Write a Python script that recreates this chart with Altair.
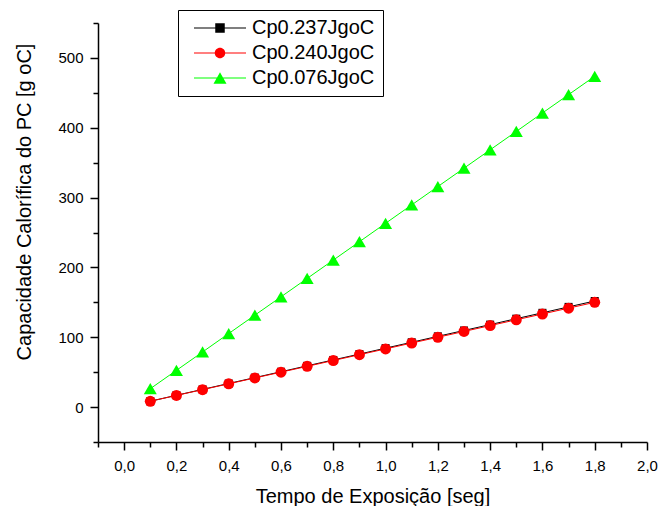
import altair as alt
import pandas as pd

# ---- data ----
tempo = [0.1, 0.2, 0.3, 0.4, 0.5, 0.6, 0.7, 0.8, 0.9, 1.0, 1.1, 1.2, 1.3, 1.4, 1.5, 1.6, 1.7, 1.8]
cp0237 = [8.4, 16.9, 25.3, 33.8, 42.2, 50.6, 59.1, 67.5, 75.9, 84.4, 92.8, 101.3, 109.7, 118.1, 126.6, 135.0, 143.5, 151.9]
cp0240 = [8.3, 16.7, 25.0, 33.3, 41.7, 50.0, 58.3, 66.7, 75.0, 83.3, 91.7, 100.0, 108.3, 116.7, 125.0, 133.3, 141.7, 150.0]
cp0076 = [26.3, 52.6, 78.9, 105.3, 131.6, 157.9, 184.2, 210.5, 236.8, 263.2, 289.5, 315.8, 342.1, 368.4, 394.7, 421.1, 447.4, 473.7]

series = ["Cp0.237JgoC", "Cp0.240JgoC", "Cp0.076JgoC"]
colors = ["#000000", "#FF0000", "#00FF00"]
shapes = ["square", "circle", "triangle-up"]
sizes = [64, 121, 169]

x_ticks = [-0.1, 0.0, 0.1, 0.2, 0.3, 0.4, 0.5, 0.6, 0.7, 0.8, 0.9, 1.0,
           1.1, 1.2, 1.3, 1.4, 1.5, 1.6, 1.7, 1.8, 1.9, 2.0]
y_ticks = [-50, 0, 50, 100, 150, 200, 250, 300, 350, 400, 450, 500, 550]

rows = []
for name, vals in zip(series, [cp0237, cp0240, cp0076]):
    for t, v in zip(tempo, vals):
        rows.append({"tempo": t, "cp": v, "serie": name})
df = pd.DataFrame(rows)

# legend symbols: line through marker (unit = sqrt(size)/2 px)
line_path = "M-5.2,-0.1H5.2V0.1H-5.2Z"
legend_paths = [
    line_path + "M-0.95,-0.95H0.95V0.95H-0.95Z",
    line_path + "M-1.05,0A1.05,1.05,0,0,1,1.05,0A1.05,1.05,0,0,1,-1.05,0Z",
    line_path + "M0,-1.126L1.3,1.126H-1.3Z",
]

x_scale = alt.Scale(domain=[-0.1, 2.0], nice=False, zero=False)
y_scale = alt.Scale(domain=[-50, 550], nice=False, zero=False)
color_scale = alt.Scale(domain=series, range=colors)

x_enc = alt.X(
    "tempo:Q",
    title="Tempo de Exposição [seg]",
    scale=x_scale,
    axis=alt.Axis(
        values=x_ticks,
        tickSize={"condition": {"test": "round(datum.value*10) % 2 == 0", "value": 8}, "value": 5},
        labelPadding=8,
        labelFlush=False,
        labelOverlap=False,
        labelExpr="round(datum.value*10) % 2 == 0 ? replace(format(datum.value, '.1f'), '.', ',') : ''",
        titleY=54,
        titleBaseline="middle",
    ),
)
y_enc = alt.Y(
    "cp:Q",
    title="Capacidade Calorífica do PC [g oC]",
    scale=y_scale,
    axis=alt.Axis(
        values=y_ticks,
        tickSize={"condition": {"test": "datum.value % 100 == 0", "value": 8}, "value": 5},
        labelPadding=7,
        labelFlush=False,
        labelOverlap=False,
        labelExpr="datum.value % 100 == 0 ? datum.label : ''",
        titleX=-74,
        titleY=178.5,
        titleBaseline="middle",
    ),
)

legend_cfg = dict(
    orient="none",
    legendX=80,
    legendY=-13,
    padding=8,
    strokeColor="#000000",
    fillColor="#FFFFFF",
    labelFont="Liberation Sans",
    labelFontSize=20,
    labelColor="#000000",
    labelOffset=22,
    labelExpr="datum.label + ' '",
    symbolOffset=24,
    symbolSize=100,
    symbolStrokeWidth=0,
    rowPadding=5,
)

# legend-only layer (no marks drawn), placed first so its legend settings win
legend_layer = (
    alt.Chart(df)
    .transform_filter("false")
    .mark_point(filled=True, opacity=1)
    .encode(
        x=x_enc,
        y=y_enc,
        color=alt.Color("serie:N", scale=color_scale, title=None, legend=alt.Legend(**legend_cfg)),
        shape=alt.Shape("serie:N", scale=alt.Scale(domain=series, range=legend_paths),
                        title=None, legend=alt.Legend(**legend_cfg)),
    )
)

lines = alt.Chart(df).mark_line(strokeWidth=1).encode(
    x=x_enc,
    y=y_enc,
    color=alt.Color("serie:N", scale=color_scale, legend=None),
    detail="serie:N",
)

point_layers = []
for name, shp, sz in zip(series, shapes, sizes):
    point_layers.append(
        alt.Chart(df)
        .transform_filter(alt.datum.serie == name)
        .mark_point(filled=True, opacity=1, shape=shp, size=sz)
        .encode(
            x=x_enc,
            y=y_enc,
            color=alt.Color("serie:N", scale=color_scale, legend=None),
        )
    )

chart = (
    alt.layer(legend_layer, lines, *point_layers)
    .properties(
        width=549,
        height=419,
        autosize=alt.AutoSizeParams(type="none"),
        padding={"left": 98, "top": 23, "right": 11, "bottom": 64},
        background="#FFFFFF",
    )
    .configure_view(strokeWidth=0)
    .configure_axis(
        grid=False,
        domainColor="#000000",
        domainWidth=1.5,
        tickColor="#000000",
        tickWidth=1.5,
        labelColor="#000000",
        labelFont="Liberation Sans",
        labelFontSize=15,
        titleColor="#000000",
        titleFont="Liberation Sans",
        titleFontSize=20,
        titleFontWeight="normal",
    )
)

chart.save("out.html", embed_options={"renderer": "svg", "actions": False})
